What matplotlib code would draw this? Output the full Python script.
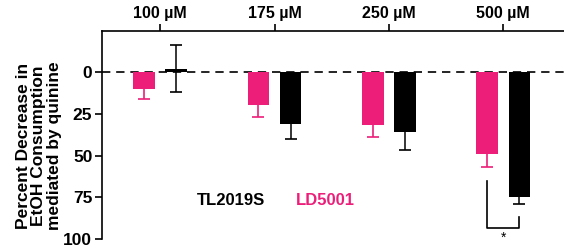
import numpy as np
import matplotlib.pyplot as plt

plt.rcParams['font.family'] = ['Liberation Sans', 'DejaVu Sans']
plt.rcParams['font.weight'] = 'bold'

doses = ["100 \u00b5M", "175 \u00b5M", "250 \u00b5M", "500 \u00b5M"]
ld_mean = [10, 20, 32, 49]
ld_err = [6, 7, 7, 8]
tl_mean = [-2, 31, 36, 75]
tl_err = [14, 9, 11, 4]

pink = "#EC1E79"
x = np.arange(len(doses))
w = 0.19

fig = plt.figure(figsize=(5.64, 2.48), dpi=100)
ax = fig.add_axes([0.181, 0.036, 0.819, 0.839])

ax.axhline(0, color="black", ls=(0, (5, 3.5)), lw=1.2, zorder=1)

ax.errorbar(x - 0.14, ld_mean, yerr=ld_err, fmt="none", ecolor=pink,
            elinewidth=1.2, capsize=4, capthick=1.2, zorder=2)
ax.errorbar(x + 0.14, tl_mean, yerr=tl_err, fmt="none", ecolor="black",
            elinewidth=1.1, capsize=4, capthick=1.2, zorder=2)
ax.bar(x - 0.14, ld_mean, width=w, color=pink, zorder=3)
ax.bar(x + 0.14, tl_mean, width=w, color="black", zorder=3)

# significance bracket at 500 uM
ax.plot([3 - 0.14, 3 - 0.14, 3 + 0.14, 3 + 0.14], [65, 93.5, 93.5, 86.5],
        color="black", lw=1.2, zorder=4)
ax.text(3, 99, "*", ha="center", va="center", fontsize=10, fontweight="normal")

ax.text(0.32, 77, "TL2019S", color="black", fontsize=12, fontweight="bold",
        ha="left", va="center")
ax.text(1.19, 77, "LD5001", color=pink, fontsize=12, fontweight="bold",
        ha="left", va="center")

ax.set_xlim(-0.507, 3.53)
ax.set_ylim(100, -24.5)
ax.set_yticks([0, 25, 50, 75, 100])
ax.xaxis.tick_top()
ax.set_xticks(x)
ax.set_xticklabels(doses, fontsize=11.5, fontweight="bold")
ax.tick_params(axis="y", labelsize=12.5, width=1.2, length=5, pad=2)
ax.tick_params(axis="x", width=1.2, length=5, pad=2)
for lab in ax.get_yticklabels():
    lab.set_fontweight("bold")

ax.spines["right"].set_visible(False)
ax.spines["bottom"].set_visible(False)
ax.spines["left"].set_linewidth(1.2)
ax.spines["top"].set_linewidth(1.2)

ax.set_ylabel("Percent Decrease in\nEtOH Consumption\nmediated by quinine",
              fontsize=12.5, fontweight="bold", linespacing=1.05)
ax.yaxis.set_label_coords(-0.087, 0.45)

fig.savefig("out.png", dpi=100)
